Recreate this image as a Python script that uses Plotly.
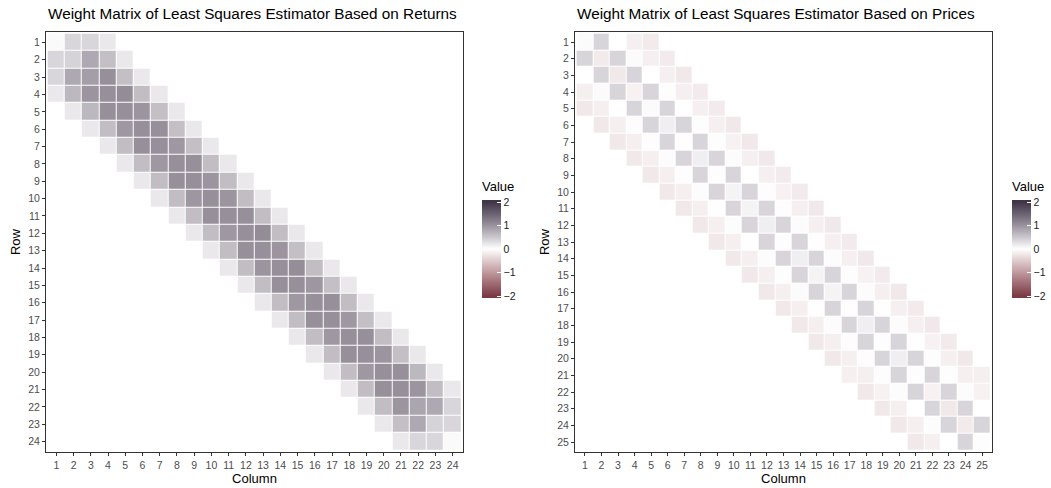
import plotly.graph_objects as go

# ---------------- data ----------------
# Left matrix: 24 x 24, band of width 3 either side of the diagonal
returns_n = 24
returns_start_col = [1, 1, 1, 1, 2, 3, 4, 5, 6, 7, 8, 9, 10, 11, 12, 13, 14, 15, 16, 17, 18, 19, 20, 21]
returns_band = [
    [0.05, 0.37, 0.37, 0.20],
    [0.37, 0.40, 0.80, 0.58, 0.20],
    [0.37, 0.80, 0.90, 1.03, 0.58, 0.20],
    [0.20, 0.65, 0.98, 1.03, 1.06, 0.60, 0.20],
    [0.20, 0.65, 1.03, 1.03, 0.98, 0.58, 0.20],
    [0.20, 0.60, 0.95, 1.03, 1.03, 0.58, 0.20],
    [0.20, 0.60, 1.03, 1.03, 0.95, 0.58, 0.20],
    [0.20, 0.60, 0.95, 1.03, 1.03, 0.60, 0.20],
    [0.20, 0.60, 1.03, 1.03, 0.98, 0.60, 0.20],
    [0.20, 0.60, 0.96, 1.03, 0.98, 0.60, 0.20],
    [0.20, 0.60, 1.03, 1.03, 1.03, 0.60, 0.20],
    [0.20, 0.60, 0.95, 1.03, 1.06, 0.60, 0.20],
    [0.20, 0.60, 1.03, 1.03, 0.98, 0.58, 0.20],
    [0.20, 0.60, 0.98, 1.03, 1.05, 0.60, 0.20],
    [0.20, 0.60, 1.03, 1.03, 0.96, 0.58, 0.20],
    [0.20, 0.60, 0.95, 1.03, 1.03, 0.60, 0.20],
    [0.20, 0.60, 1.03, 1.03, 0.95, 0.58, 0.20],
    [0.20, 0.60, 0.95, 1.03, 1.03, 0.60, 0.20],
    [0.20, 0.60, 1.03, 1.03, 0.98, 0.58, 0.20],
    [0.20, 0.60, 0.95, 1.03, 1.03, 0.65, 0.20],
    [0.20, 0.60, 1.03, 1.03, 0.98, 0.60, 0.20],
    [0.20, 0.60, 0.98, 0.83, 0.80, 0.37],
    [0.20, 0.58, 0.80, 0.40, 0.37],
    [0.20, 0.37, 0.37, 0.05],
]

# Right matrix: 25 x 25, band of width 4 either side of the diagonal
prices_n = 25
prices_start_col = [1, 1, 1, 1, 1, 2, 3, 4, 5, 6, 7, 8, 9, 10, 11, 12, 13, 14, 15, 16, 17, 18, 19, 20, 21]
prices_band = [
    [0.04, 0.38, 0.00, -0.15, -0.20],
    [0.38, -0.20, 0.38, 0.04, -0.15, -0.20],
    [0.00, 0.38, -0.22, 0.38, 0.00, -0.15, -0.22],
    [-0.15, 0.04, 0.38, -0.13, 0.38, 0.02, -0.15, -0.20],
    [-0.22, -0.15, 0.00, 0.38, 0.04, 0.38, 0.00, -0.15, -0.20],
    [-0.22, -0.15, 0.02, 0.38, 0.15, 0.38, 0.02, -0.15, -0.22],
    [-0.22, -0.15, 0.02, 0.38, 0.01, 0.38, 0.02, -0.13, -0.22],
    [-0.22, -0.15, 0.03, 0.38, 0.15, 0.38, 0.03, -0.15, -0.22],
    [-0.22, -0.15, 0.02, 0.38, 0.02, 0.38, 0.00, -0.15, -0.20],
    [-0.22, -0.15, 0.03, 0.38, 0.10, 0.38, 0.02, -0.13, -0.20],
    [-0.22, -0.15, 0.01, 0.38, 0.10, 0.38, 0.02, -0.15, -0.22],
    [-0.22, -0.15, 0.03, 0.38, 0.15, 0.38, 0.03, -0.15, -0.22],
    [-0.22, -0.15, 0.01, 0.38, 0.02, 0.38, 0.01, -0.15, -0.20],
    [-0.22, -0.15, 0.03, 0.38, 0.15, 0.38, 0.03, -0.15, -0.22],
    [-0.22, -0.15, 0.02, 0.38, 0.10, 0.38, 0.02, -0.13, -0.20],
    [-0.22, -0.15, 0.04, 0.38, 0.10, 0.38, 0.03, -0.15, -0.22],
    [-0.22, -0.15, 0.01, 0.38, 0.01, 0.38, 0.01, -0.15, -0.20],
    [-0.22, -0.15, 0.03, 0.38, 0.15, 0.38, 0.03, -0.15, -0.22],
    [-0.22, -0.15, 0.02, 0.38, 0.02, 0.38, 0.01, -0.13, -0.20],
    [-0.22, -0.15, 0.02, 0.38, 0.15, 0.38, 0.02, -0.15, -0.22],
    [-0.15, -0.15, 0.02, 0.38, 0.02, 0.38, 0.02, -0.15, -0.15],
    [-0.22, -0.13, 0.03, 0.38, -0.13, 0.38, 0.03, -0.13],
    [-0.22, -0.15, 0.00, 0.38, -0.22, 0.38, 0.00],
    [-0.22, -0.15, 0.03, 0.38, -0.20, 0.38],
    [-0.22, -0.15, 0.00, 0.38, 0.02],
]

value_ticks = [-2, -1, 0, 1, 2]

titles = ["Weight Matrix of Least Squares Estimator Based on Returns",
          "Weight Matrix of Least Squares Estimator Based on Prices"]

# ---------------- colour scale (Lab interpolation, low - white - high) ----------------
LOW, MID, HIGH = "#7B3A46", "#FFFFFF", "#3F3547"
LIMIT = 2.0          # value mapped to LOW / HIGH
BAR_EXTENT = 2.085   # the colour bar runs a little past the outer ticks


def _to_lin(c):
    c = c / 255.0
    return c / 12.92 if c <= 0.04045 else ((c + 0.055) / 1.055) ** 2.4


def _from_lin(c):
    c = 12.92 * c if c <= 0.0031308 else 1.055 * c ** (1 / 2.4) - 0.055
    return max(0, min(255, round(c * 255)))


def hex_to_lab(h):
    r, g, b = (_to_lin(int(h[i:i + 2], 16)) for i in (1, 3, 5))
    x = (0.4124 * r + 0.3576 * g + 0.1805 * b) / 0.95047
    y = 0.2126 * r + 0.7152 * g + 0.0722 * b
    z = (0.0193 * r + 0.1192 * g + 0.9505 * b) / 1.08883
    f = lambda t: t ** (1 / 3) if t > 0.008856 else 7.787 * t + 16 / 116
    fx, fy, fz = f(x), f(y), f(z)
    return 116 * fy - 16, 500 * (fx - fy), 200 * (fy - fz)


def lab_to_hex(L, a, b):
    fy = (L + 16) / 116
    fx = fy + a / 500
    fz = fy - b / 200
    finv = lambda t: t ** 3 if t ** 3 > 0.008856 else (t - 16 / 116) / 7.787
    x, y, z = finv(fx) * 0.95047, finv(fy), finv(fz) * 1.08883
    r = 3.2406 * x - 1.5372 * y - 0.4986 * z
    g = -0.9689 * x + 1.8758 * y + 0.0415 * z
    bb = 0.0557 * x - 0.2040 * y + 1.0570 * z
    return "#%02X%02X%02X" % tuple(_from_lin(max(0.0, c)) for c in (r, g, bb))


lab_low, lab_mid, lab_high = hex_to_lab(LOW), hex_to_lab(MID), hex_to_lab(HIGH)
colorscale = []
steps = 50
for i in range(steps + 1):
    t = i / steps
    v = -BAR_EXTENT + 2 * BAR_EXTENT * t
    f = min(abs(v) / LIMIT, 1.0)
    end = lab_low if v < 0 else lab_high
    lab = [m + (e - m) * f for m, e in zip(lab_mid, end)]
    colorscale.append([t, lab_to_hex(*lab)])


def band_to_matrix(n, start_cols, band):
    z = [[None] * n for _ in range(n)]
    for r, (c0, vals) in enumerate(zip(start_cols, band)):
        for k, v in enumerate(vals):
            z[r][c0 - 1 + k] = v
    return z


z_returns = band_to_matrix(returns_n, returns_start_col, returns_band)
z_prices = band_to_matrix(prices_n, prices_start_col, prices_band)

# ---------------- figure ----------------
W, H = 1051, 488
FONT = "Liberation Sans, Arial, Helvetica, sans-serif"


def px(x):
    return x / W


def py(y):
    return 1 - y / H


fig = go.Figure()
fig.add_trace(go.Heatmap(
    z=z_returns, x=list(range(1, returns_n + 1)), y=list(range(1, returns_n + 1)),
    coloraxis="coloraxis", xgap=1, ygap=1, hoverongaps=False,
    xaxis="x", yaxis="y"))
fig.add_trace(go.Heatmap(
    z=z_prices, x=list(range(1, prices_n + 1)), y=list(range(1, prices_n + 1)),
    coloraxis="coloraxis2", xgap=1, ygap=1, hoverongaps=False,
    xaxis="x2", yaxis="y2"))

axis_common = dict(
    showgrid=False, zeroline=False, showline=True, mirror=True,
    linecolor="#333333", linewidth=1, ticks="outside", ticklen=3,
    tickcolor="#333333", tickwidth=1,
    tickfont=dict(family=FONT, size=10.5, color="#4D4D4D"),
    title_font=dict(family=FONT, size=13, color="#000000"),
    tickmode="array",
)

panels = [
    (returns_n, 46, 463, "x", "y", ""),
    (prices_n, 575, 992, "x2", "y2", "2"),
]
y_dom = [py(452), py(32)]
for n, x0, x1, xa, ya, sfx in panels:
    fig.update_layout(**{
        "xaxis" + sfx: dict(axis_common, domain=[px(x0), px(x1)], range=[0.4, n + 0.6],
                            tickvals=list(range(1, n + 1)),
                            ticktext=[str(i) for i in range(1, n + 1)],
                            anchor=ya, title=dict(text="Column", standoff=4)),
        "yaxis" + sfx: dict(axis_common, domain=y_dom, range=[n + 0.6, 0.4],
                            tickvals=list(range(1, n + 1)),
                            ticktext=[str(i) for i in range(1, n + 1)],
                            anchor=xa, title=dict(text="Row", standoff=4)),
    })

# colour bars: the bar spans BAR_TOP..BAR_BOTTOM (pixels), title drawn above it
BAR_TOP, BAR_BOTTOM, BAR_W = 200, 298, 19
bar_len = BAR_BOTTOM - BAR_TOP
cbar_common = dict(
    thickness=BAR_W, lenmode="pixels", len=bar_len, yanchor="middle",
    y=py((BAR_TOP + BAR_BOTTOM) / 2),
    xanchor="left", xpad=0, ypad=0, outlinewidth=0, borderwidth=0,
    tickmode="array", tickvals=value_ticks,
    ticks="inside", ticklen=4, tickcolor="#FFFFFF", tickwidth=1,
    tickfont=dict(family=FONT, size=10.5, color="#1A1A1A"),
)
bar_lefts = [482, 1012]
fig.update_layout(
    coloraxis=dict(colorscale=colorscale, cmin=-BAR_EXTENT, cmax=BAR_EXTENT,
                   colorbar=dict(cbar_common, x=px(bar_lefts[0]))),
    coloraxis2=dict(colorscale=colorscale, cmin=-BAR_EXTENT, cmax=BAR_EXTENT,
                    colorbar=dict(cbar_common, x=px(bar_lefts[1]))),
)

for bx in bar_lefts:
    fig.add_annotation(text="Value", xref="paper", yref="paper", x=px(bx - 1),
                       y=py(BAR_TOP - 5), xanchor="left", yanchor="bottom",
                       borderpad=0, showarrow=False,
                       font=dict(family=FONT, size=13, color="#000000"))
    # white tick marks on the left edge of the bar
    for v in value_ticks:
        yy = BAR_TOP + (BAR_EXTENT - v) / (2 * BAR_EXTENT) * bar_len
        fig.add_shape(type="line", xref="paper", yref="paper",
                      x0=px(bx), x1=px(bx + 4), y0=py(yy), y1=py(yy),
                      line=dict(color="#FFFFFF", width=1))

for t, x0 in zip(titles, [46, 575]):
    fig.add_annotation(text=t, xref="paper", yref="paper", x=px(x0), y=py(13),
                       xanchor="left", yanchor="middle", showarrow=False,
                       font=dict(family=FONT, size=15.3, color="#000000"))

fig.update_layout(
    width=W, height=H, margin=dict(l=0, r=0, t=0, b=0),
    paper_bgcolor="#FFFFFF", plot_bgcolor="#FFFFFF",
    font=dict(family=FONT), showlegend=False,
)

fig.write_html("out.html")
